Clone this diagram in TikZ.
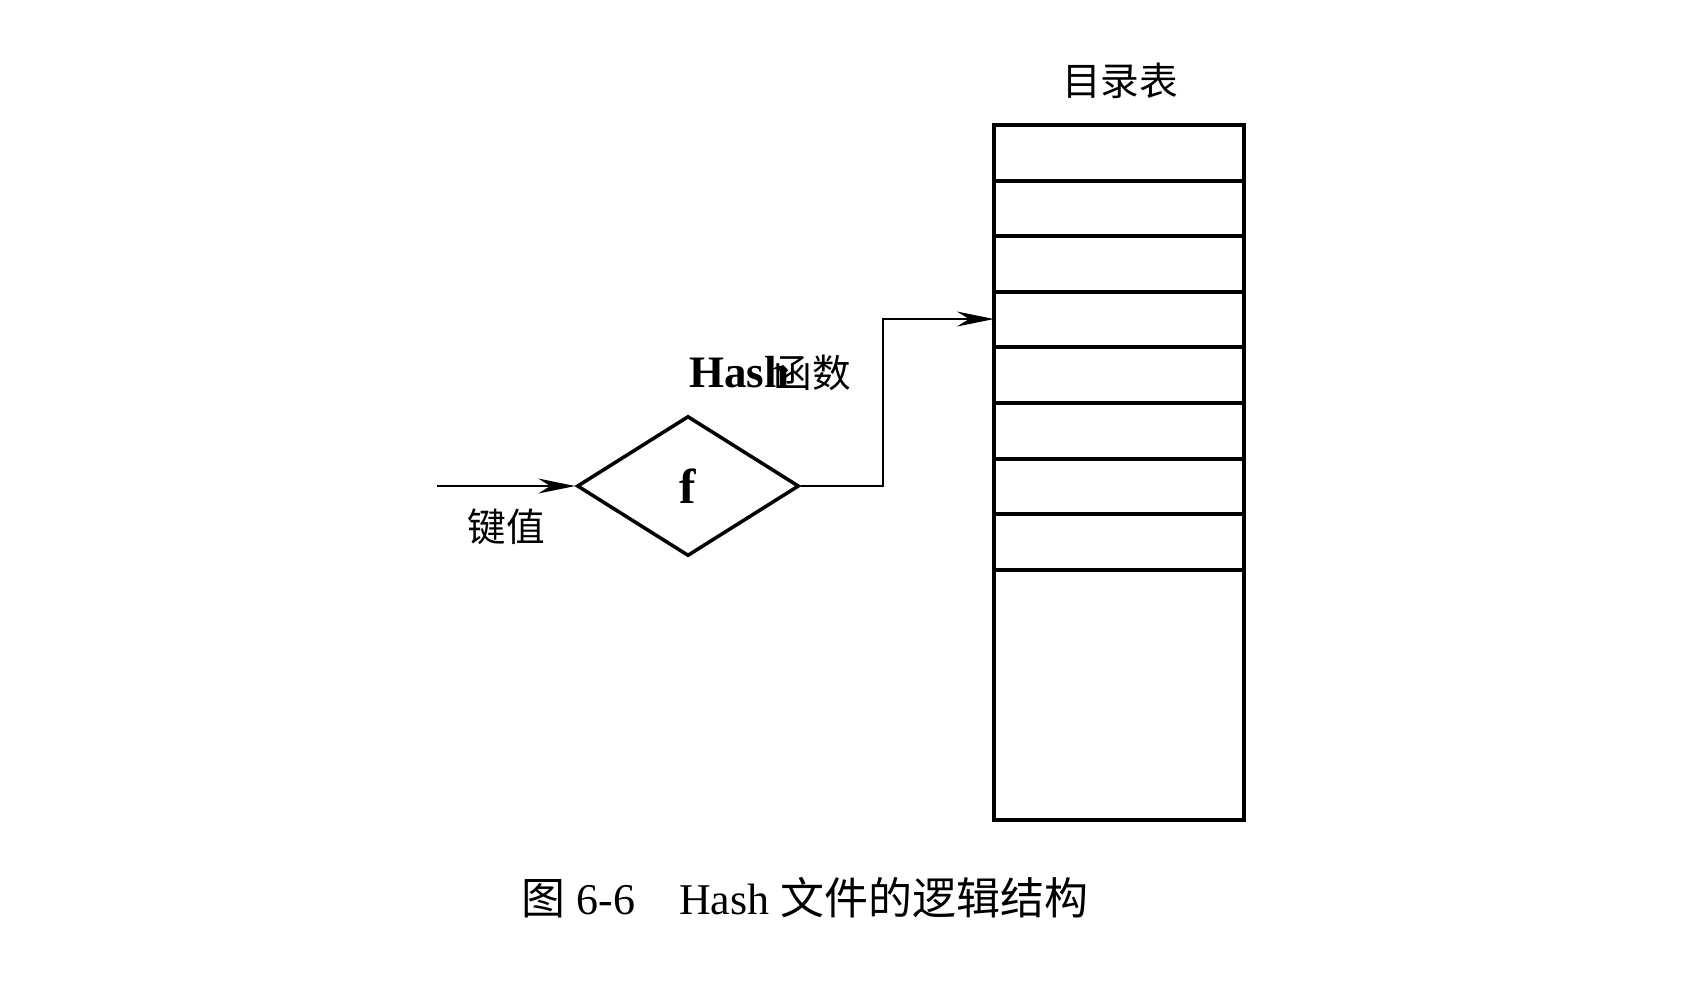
\documentclass[tikz,border=0pt]{standalone}
\usepackage{fontspec}
\setmainfont{Liberation Serif}
\newfontfamily\cjk{Noto Sans CJK SC}
\usetikzlibrary{shapes.geometric,arrows.meta,positioning}
\tikzset{>={Stealth[length=3.7mm,width=1.5mm]}}

\begin{document}
\begin{tikzpicture}[
	x=0.1mm, y=-0.1mm,
	line join=miter,
	dirtable/.style={draw, line width=1.1pt, minimum width=25mm, minimum height=69.5mm, inner sep=0pt},
	hashbox/.style={draw, line width=1pt, diamond, minimum width=22.2mm, minimum height=14mm, inner sep=0pt},
	flow/.style={semithick,->},
	txt/.style={font=\fontsize{11}{13}\selectfont}
]
	\useasboundingbox (0,0) rectangle (1700,982);
	\def\nRows{8}
	\def\rowH{55.6}

	% directory table
	\node[dirtable] (dir) at (1119,472.5) {};
	\foreach \i in {1,...,\nRows}{
		\draw[line width=1.1pt] (994,125+\i*\rowH) -- (1244,125+\i*\rowH);
	}
	\node[txt] (title) at (1120,81) {\cjk 目录表};

	% hash function
	\node[hashbox,font=\fontsize{14}{16}\selectfont] (f) at (688,486) {\textbf{f}};
	\node[txt] (fname) at (770,373)
		{{\fontsize{12.8}{15}\selectfont\textbf{Hash}}\hspace{-0.4em}{\cjk 函数}};

	% key in
	\coordinate (in) at (437,486);
	\draw[flow] (in) -- (f.west);
	\node[txt] (key) at (506,527) {\cjk 键值};

	% to slot 4
	\coordinate (slot) at (994,319);
	\draw[flow] (f.east) -- ++(82,0) |- (slot);

	% caption
	\node[font=\fontsize{12.5}{15}\selectfont] (caption) at (805,898)
		{{\cjk 图}~6-6\quad Hash~{\cjk 文件的逻辑结构}};
\end{tikzpicture}
\end{document}
